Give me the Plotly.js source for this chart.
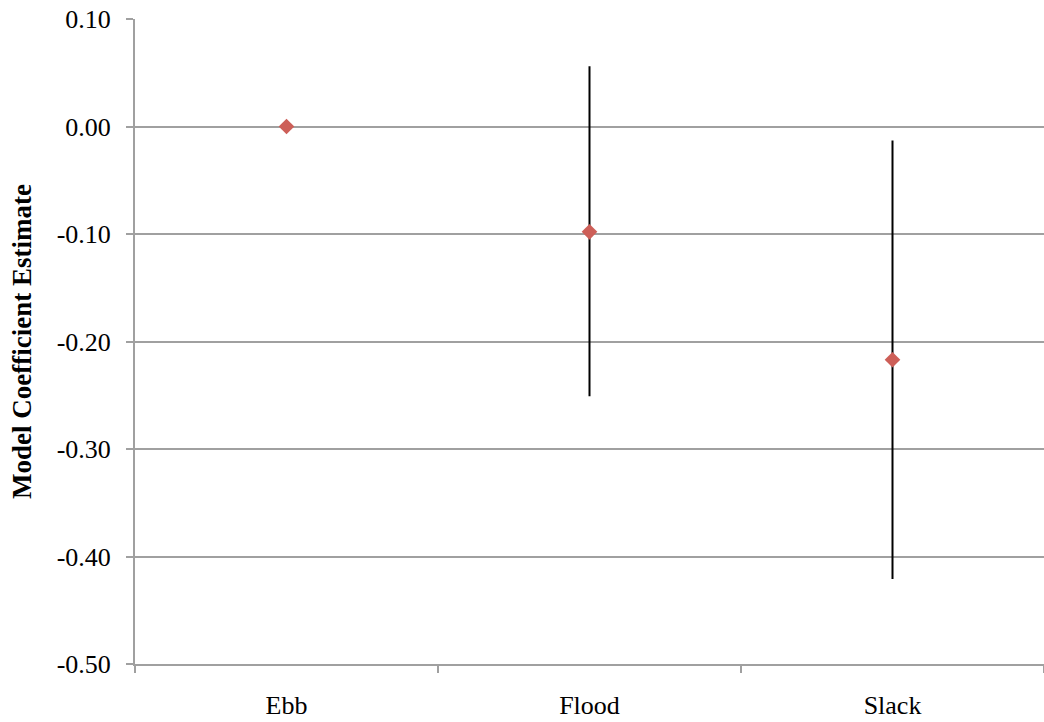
<!DOCTYPE html>
<html>
<head>
<meta charset="utf-8">
<script src="https://cdn.plot.ly/plotly-3.0.1.min.js"></script>
<style>html,body{margin:0;padding:0;background:#fff;}#chart{width:1044px;height:722px;}</style>
</head>
<body>
<div id="chart"></div>
<script>
const categories = ["Ebb", "Flood", "Slack"];
const estimates = [0.0, -0.098, -0.217];
const upperErr = [0.0, 0.154, 0.204];
const lowerErr = [0.0, 0.153, 0.204];
const yTickVals = [0.1, 0.0, -0.1, -0.2, -0.3, -0.4, -0.5];
const yTickLabels = ["0.10", "0.00", "-0.10", "-0.20", "-0.30", "-0.40", "-0.50"];

const trace = {
  type: "scatter",
  mode: "markers",
  x: categories,
  y: estimates,
  marker: {symbol: "diamond", size: 12, color: "#cd5f58"},
  error_y: {
    type: "data",
    symmetric: false,
    array: upperErr,
    arrayminus: lowerErr,
    color: "#000000",
    thickness: 2,
    width: 0
  },
  hoverinfo: "skip",
  showlegend: false
};

const font = {family: "Liberation Serif, Times New Roman, serif", size: 26, color: "#000"};
const titleFont = {family: "Liberation Serif, Times New Roman, serif", size: 27, color: "#000"};

const layout = {
  width: 1044,
  height: 722,
  paper_bgcolor: "#ffffff",
  plot_bgcolor: "#ffffff",
  margin: {l: 135, r: 0, t: 19, b: 58, pad: 0},
  font: font,
  showlegend: false,
  xaxis: {
    type: "category",
    range: [-0.5, 2.5],
    showgrid: false,
    showline: true,
    linecolor: "#a0a0a0",
    linewidth: 2,
    ticks: "outside",
    tickson: "boundaries",
    ticklen: 7,
    tickwidth: 2,
    tickcolor: "#a0a0a0",
    tickfont: font,
    ticklabelstandoff: 17,
    zeroline: false,
    fixedrange: true
  },
  yaxis: {
    range: [-0.5, 0.1],
    tickmode: "array",
    tickvals: yTickVals,
    ticktext: yTickLabels,
    showgrid: true,
    gridcolor: "#a0a0a0",
    gridwidth: 2,
    zeroline: true,
    zerolinecolor: "#a0a0a0",
    zerolinewidth: 2,
    showline: true,
    linecolor: "#a0a0a0",
    linewidth: 2,
    ticks: "outside",
    ticklen: 7,
    tickwidth: 2,
    tickcolor: "#a0a0a0",
    tickfont: font,
    ticklabelstandoff: 10,
    title: {
      text: "<b>Model Coefficient Estimate</b>",
      font: titleFont,
      standoff: 17
    },
    automargin: false,
    fixedrange: true
  }
};

Plotly.newPlot("chart", [trace], layout, {staticPlot: true, displayModeBar: false});
</script>
</body>
</html>
